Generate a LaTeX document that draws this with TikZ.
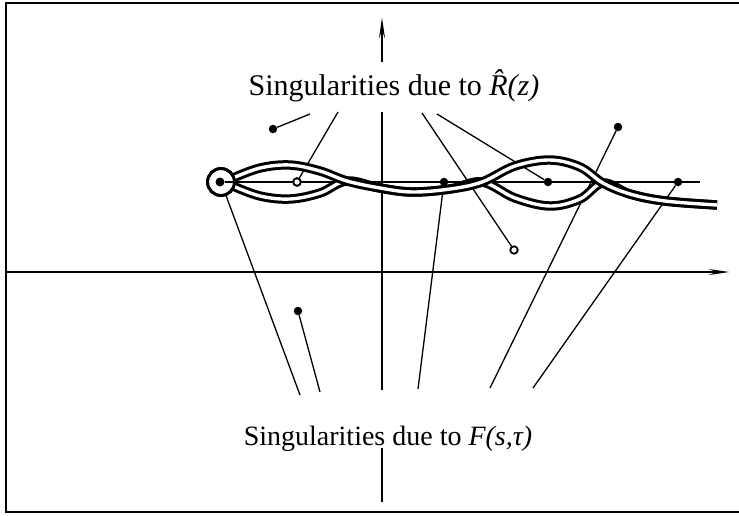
\documentclass[tikz,border=0pt]{standalone}
\usepackage{fontspec}
\setmainfont{Liberation Serif}
\usetikzlibrary{arrows.meta}
\begin{document}
\begin{tikzpicture}[x=1pt,y=-1pt,
  tube/.style={draw=black, line width=3pt, double=white, double distance=3.4pt},
  leader/.style={line width=1.3pt},
  axisline/.style={line width=2.6pt},
  dotnode/.style={circle, fill=black, inner sep=0pt, minimum size=8.5pt},
  ringnode/.style={circle, draw=black, line width=1.8pt, fill=white, inner sep=0pt, minimum size=7.5pt},
  label/.style={inner sep=0pt, anchor=base}]
\useasboundingbox (0,0) rectangle (739,515);
% frame
\draw[line width=2pt] (6,3) rectangle (741,512);
% labels
\node[label, font=\fontsize{30}{36}\selectfont] (top) at (394,95) {Singularities due to \textit{\^{R}(z)}};
\node[label, font=\fontsize{28}{34}\selectfont] (bot) at (388,445) {Singularities due to \textit{F(s,τ)}};
% points
\node[dotnode] (A) at (273,129) {};
\node[dotnode] (E) at (298,311) {};
\node[dotnode] (F) at (618,127) {};
\node[dotnode] (D1) at (444,182) {};
\node[dotnode] (D2) at (548,182) {};
\node[dotnode] (D3) at (678,182) {};
\node[circle, draw=black, line width=2.8pt, inner sep=0pt, minimum size=27pt] (circ) at (221,182) {};
\node[dotnode, minimum size=9pt] (C0) at (220,182) {};
% leader ends
\coordinate (t1) at (310,114);
\coordinate (t2) at (338,112);
\coordinate (t3) at (422,113);
\coordinate (t4) at (437,114);
\coordinate (b1) at (300,395);
\coordinate (b2) at (320,392);
\coordinate (b3) at (418,389);
\coordinate (b4) at (490,388);
\coordinate (b5) at (533,388);
\coordinate (lineEnd) at (700,182);
% axes
\coordinate (hx0) at (6,272);
\coordinate (hx1) at (730,272);
\coordinate (vTop0) at (382,62);
\coordinate (vTop1) at (382,17);
\coordinate (vMid0) at (382,112);
\coordinate (vMid1) at (382,390);
\coordinate (vBot0) at (382,448);
\coordinate (vBot1) at (382,502);
\draw[axisline, -{Stealth[length=20pt,width=5.5pt]}] (hx0) -- (hx1);
\draw[axisline, -{Stealth[length=20pt,width=5.5pt]}] (vTop0) -- (vTop1);
\draw[axisline] (vMid0) -- (vMid1);
\draw[axisline] (vBot0) -- (vBot1);
% thin line along the cut
\draw[line width=1.4pt] (C0) -- (lineEnd);
% leaders
\draw[leader] (t1) -- (A);
\draw[leader] (t4) -- (D2);
\draw[leader] (b2) -- (E);
\draw[leader] (b3) -- (D1);
\draw[leader] (b4) -- (F);
\draw[leader] (b5) -- (D3);
\draw[leader] (b1) -- (circ);
% open rings (targets)
\node[ringnode] (P) at (297,182) {};
\node[ringnode] (Q) at (514,250) {};
\draw[leader] (t2) -- (P);
\draw[leader] (t3) -- (Q);
% tubes
\draw[tube] plot[smooth, tension=0.6] coordinates {(233,186) (260,196) (290,199) (320,193) (347,181) (380,188) (412,192) (450,189) (482,182) (515,198) (550,206) (580,199) (603,183) (630,194) (665,201) (717,205)};
\draw[tube] plot[smooth, tension=0.6] coordinates {(233,178) (260,168) (290,165) (320,171) (347,181) (380,188) (412,192) (450,189) (482,182) (515,166) (550,160) (580,167) (603,183) (630,194) (665,201) (717,205)};
% circle outline on top
\draw[line width=2.8pt] (circ.center) circle[radius=13.5pt];
\node[ringnode] at (P) {};
\end{tikzpicture}
\end{document}
